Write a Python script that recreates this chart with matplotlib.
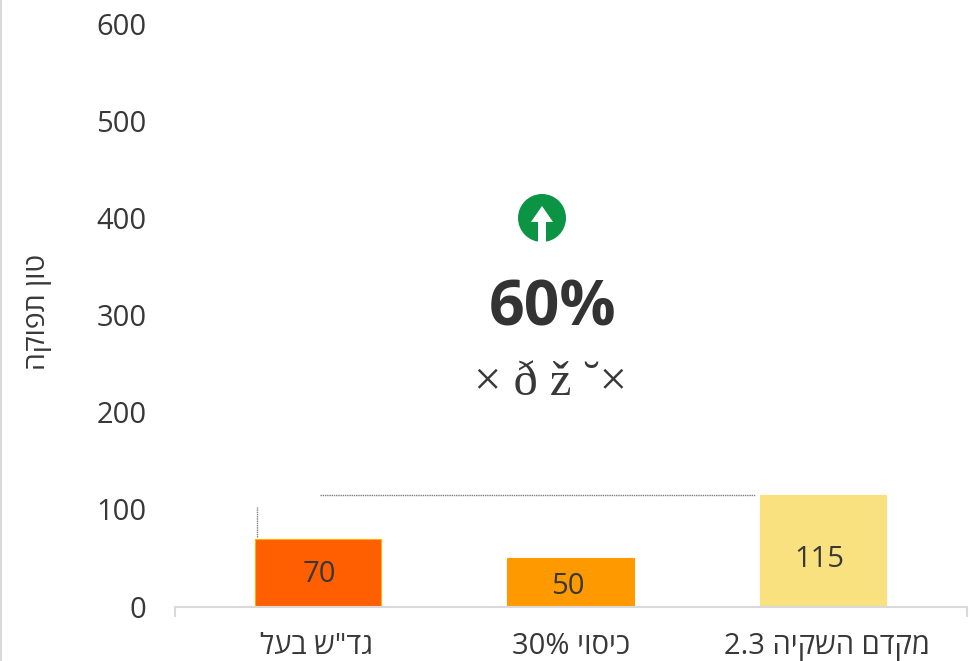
import matplotlib
matplotlib.use('Agg')
import matplotlib.pyplot as plt
from matplotlib.patches import Circle, Polygon, Rectangle
from matplotlib.lines import Line2D
from matplotlib.transforms import ScaledTranslation

W, H = 978, 661

# chart values
categories = ['גד"ש בעל'[::-1], '30% ' + 'כיסוי'[::-1], '2.3 ' + 'מקדם השקיה'[::-1]]
values = [70, 50, 115]
yticks = [0, 100, 200, 300, 400, 500, 600]
colors = ['#FF5F00', '#FF9900', '#FAE17F']
edges = ['#FFB000', '#FF9900', '#FAE17F']
label_shift_x = [1, -3, -4]
label_shift_y = [-2, -4, -9]
cat_shift = [-1.5, 1, 4]
ylabel = 'טון תפוקה'[::-1]
big_text = '60%'
garbled_text = '× ð ž ˘×'

plt.rcParams['font.family'] = ['Open Sans', 'DejaVu Sans']
text_color = '#383838'

fig = plt.figure(figsize=(W / 100, H / 100), dpi=100)
ax = fig.add_axes([175 / W, 1 - 606.5 / H, 792 / W, 582.5 / H])

x = range(len(values))
ax.bar(x, values, width=0.5, color=colors, edgecolor=edges, linewidth=0.8)
ax.set_xlim(-0.566, 2.57)
ax.set_ylim(0, 600)

# bar labels
for i, v in enumerate(values):
    ax.annotate(str(v), (i, v / 2), xytext=(label_shift_x[i] * 0.72, label_shift_y[i] * 0.72),
                textcoords='offset points', ha='center', va='center', fontsize=21, color=text_color)

# dotted connectors
ax.plot([0.01, 1.73], [values[2], values[2]], color='#7f7f7f', lw=1, ls=(0, (1, 0.6)))
ax.plot([-0.24, -0.24], [values[0] + 2, 103], color='#7f7f7f', lw=1, ls=(0, (1, 0.6)))

# axes styling
for s in ['top', 'right', 'left']:
    ax.spines[s].set_visible(False)
ax.spines['bottom'].set_color('#d9d9d9')
ax.spines['bottom'].set_linewidth(1.5)
ax.set_yticks(yticks)
ax.tick_params(axis='y', length=0, labelsize=21, labelcolor=text_color, pad=20.5)
ax.set_xticks(list(x))
ax.set_xticklabels(categories)
ax.tick_params(axis='x', which='major', length=0, labelsize=21, labelcolor=text_color, pad=18.5)
ax.set_xticks(ax.get_xlim(), minor=True)
ax.tick_params(axis='x', which='minor', length=7, width=1.5, color='#d9d9d9')
for lab, dx in zip(ax.get_xticklabels(), cat_shift):
    lab.set_transform(lab.get_transform() + ScaledTranslation(dx / 100, 0, fig.dpi_scale_trans))

# text in the middle of the chart, placed in pixels
def px(a, b):
    return a / W, 1 - b / H

fig.text(*px(38, 312), ylabel, rotation=90, ha='center', va='center', fontsize=20.5, color=text_color)
fig.text(*px(552.5, 308.5), big_text, ha='center', va='center', fontsize=45, fontweight='bold', color='#333333')
fig.text(*px(550, 383), garbled_text, ha='center', va='center', fontsize=35,
         family='Liberation Serif', color=text_color)

# arrow icon
overlay = fig.add_axes([0, 0, 1, 1], facecolor='none')
overlay.set_xlim(0, W)
overlay.set_ylim(H, 0)
overlay.axis('off')
circle = Circle((542, 218), 24, color='#0B9444', lw=0)
overlay.add_patch(circle)
overlay.add_patch(Polygon([(542, 206), (553, 222), (546, 222), (546, 243), (538, 243), (538, 222), (531, 222)],
                          closed=True, color='white', lw=0))
overlay.add_patch(Rectangle((518, 241.5), 48, 3, color='white', lw=0))

# outer border line on the left
fig.add_artist(Line2D([1.2 / W, 1.2 / W], [0, 1], color='#d9d9d9', lw=1.5))

fig.savefig('out.png', dpi=100)
